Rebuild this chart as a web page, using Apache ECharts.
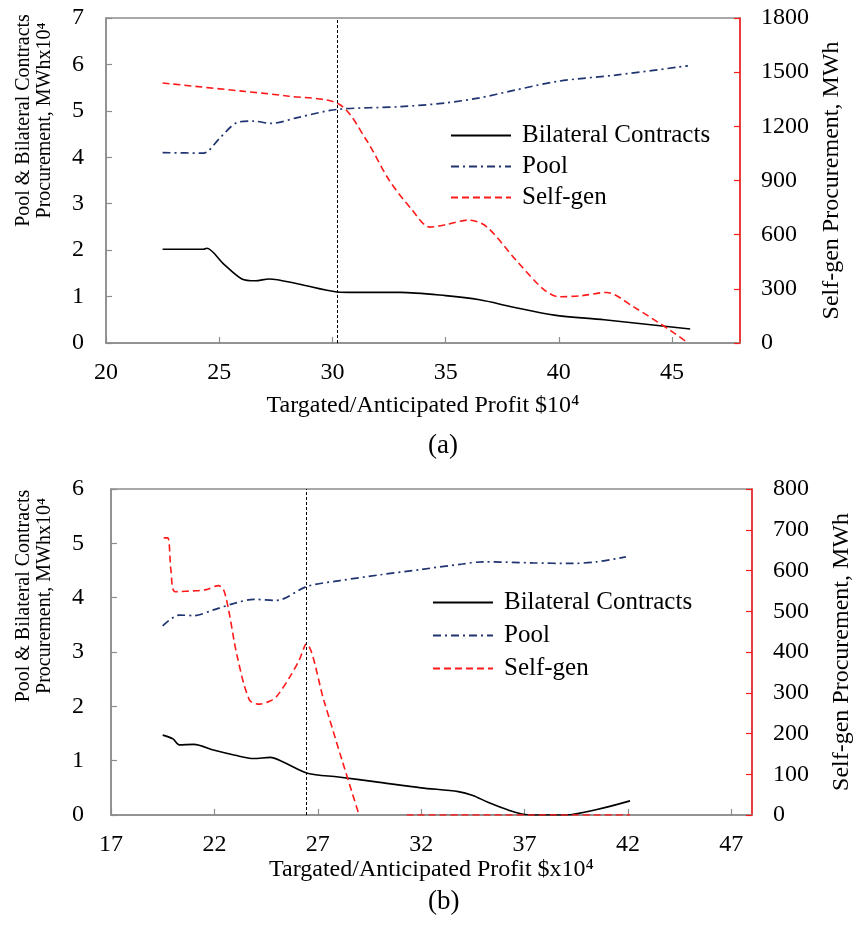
<!DOCTYPE html>
<html>
<head>
<meta charset="utf-8">
<script src="https://cdn.jsdelivr.net/npm/echarts@6/dist/echarts.min.js"></script>
<style>
  html, body { margin: 0; padding: 0; background: #fff; }
  #chart { width: 856px; height: 934px; }
</style>
</head>
<body>
<div id="chart"></div>
<script>
// (a) values
var bilateralAX = [22.5, 24.3, 24.45, 25.2, 26.0, 26.6, 27.2, 28.5, 30.2, 31.0, 33.0, 35.0, 36.5, 38.0, 39.8, 42.0, 45.8];
var bilateralAY = [2.02, 2.02, 2.04, 1.70, 1.38, 1.34, 1.38, 1.27, 1.10, 1.09, 1.09, 1.02, 0.93, 0.77, 0.60, 0.50, 0.30];
var poolAX = [22.5, 24.3, 25.0, 25.8, 26.5, 27.3, 28.5, 30.2, 33.0, 35.0, 36.5, 38.0, 40.0, 42.5, 45.7];
var poolAY = [4.10, 4.09, 4.40, 4.75, 4.78, 4.73, 4.86, 5.03, 5.09, 5.17, 5.28, 5.44, 5.64, 5.77, 5.97];
var selfAX = [22.5, 26.0, 28.0, 30.3, 31.5, 32.5, 33.5, 34.3, 35.0, 36.0, 36.8, 38.1, 39.3, 40.0, 41.0, 42.1, 43.3, 44.9, 45.7];
var selfAY = [1440, 1395, 1368, 1322, 1124, 903, 740, 642, 655, 681, 645, 460, 300, 256, 262, 280, 200, 72, 0];
var markA = 30.2;

// (b) values
var bilateralBX = [19.5, 20.0, 20.3, 21.0, 22.0, 23.0, 23.9, 24.7, 25.3, 26.5, 28.0, 30.0, 32.0, 33.8, 34.5, 35.2, 36.3, 37.0, 38.0, 39.0, 40.5, 42.1];
var bilateralBY = [1.47, 1.40, 1.29, 1.30, 1.19, 1.10, 1.04, 1.06, 0.98, 0.77, 0.70, 0.60, 0.50, 0.43, 0.36, 0.24, 0.08, 0.01, 0.0, 0.0, 0.10, 0.26];
var poolBX = [19.5, 20.3, 21.0, 22.0, 23.0, 23.9, 25.0, 26.5, 28.0, 30.0, 32.0, 34.0, 35.0, 37.4, 39.3, 40.5, 41.9];
var poolBY = [3.48, 3.68, 3.67, 3.78, 3.90, 3.97, 3.95, 4.21, 4.31, 4.42, 4.52, 4.62, 4.66, 4.64, 4.63, 4.66, 4.75];
var selfBX = [19.55, 19.75, 19.9, 20.1, 21.0, 21.6, 22.2, 22.45, 22.7, 23.1, 23.7, 24.2, 24.7, 25.0, 25.65, 26.1, 26.45, 27.3, 28.2, 29.0, 30.0, 31.3, 42.1];
var selfBY = [680, 680, 600, 548, 550, 553, 563, 552, 500, 390, 282, 272, 280, 290, 339, 380, 420, 280, 130, 0, '-', 0, 0];
var markB = 26.45;

var seriesNames = ['Bilateral Contracts', 'Pool', 'Self-gen'];
var leftAxisName = 'Pool & Bilateral Contracts\nProcurement, MWhx10\u2074';
var rightAxisName = 'Self-gen Procurement, MWh';
var xNameA = 'Targated/Anticipated Profit $10\u2074';
var xNameB = 'Targated/Anticipated Profit $x10\u2074';

function zip(xs, ys) {
    return xs.map(function (x, i) { return [x, ys[i]]; });
}

var FONT = 'Liberation Serif';
var GRAY = '#8c8c8c';
var BLUE = '#1f3470';
var RED = '#ff1a1a';

function plain(v) { return String(v); }

function xAxis(grid, min, max, name, gap) {
    return {
        type: 'value', gridIndex: grid, min: min, max: max, interval: 5,
        name: name, nameLocation: 'middle', nameGap: gap,
        nameTextStyle: { fontFamily: FONT, fontSize: 24, color: '#000' },
        axisLine: { lineStyle: { color: GRAY, width: 1.5 } },
        axisTick: { inside: true, length: 6, lineStyle: { color: GRAY, width: 1.2 } },
        axisLabel: { fontFamily: FONT, fontSize: 24, color: '#000', margin: 18, showMaxLabel: false },
        splitLine: { show: false }
    };
}

function leftAxis(grid, max, gap, margin, shift) {
    return {
        type: 'value', gridIndex: grid, min: 0, max: max, interval: 1, position: 'left',
        name: leftAxisName, nameLocation: 'middle', nameRotate: 90, nameGap: gap,
        nameTextStyle: { fontFamily: FONT, fontSize: 20, color: '#000', lineHeight: 21, padding: [0, 0, 0, shift] },
        axisLine: { show: true, lineStyle: { color: GRAY, width: 1.5 } },
        axisTick: { show: true, inside: true, length: 6, lineStyle: { color: GRAY, width: 1.2 } },
        axisLabel: { fontFamily: FONT, fontSize: 24, color: '#000', margin: margin },
        splitLine: { show: false }
    };
}

function rightAxis(grid, max, interval, gap) {
    return {
        type: 'value', gridIndex: grid, min: 0, max: max, interval: interval, position: 'right',
        name: rightAxisName, nameLocation: 'middle', nameRotate: 90, nameGap: gap,
        nameTextStyle: { fontFamily: FONT, fontSize: 24, color: '#000' },
        axisLine: { show: true, lineStyle: { color: RED, width: 1.5 } },
        axisTick: { show: true, inside: true, length: 6, lineStyle: { color: RED, width: 1.2 } },
        axisLabel: { fontFamily: FONT, fontSize: 24, color: '#000', margin: 21, formatter: plain },
        splitLine: { show: false }
    };
}

function lines(xi, yl, yr, bil, pool, self, mark) {
    return [{
        name: seriesNames[0], type: 'line', xAxisIndex: xi, yAxisIndex: yl,
        data: bil, smooth: 0.3, symbol: 'none',
        lineStyle: { color: '#000', width: 1.6 }, itemStyle: { color: '#000' },
        markLine: {
            silent: true, symbol: 'none', label: { show: false },
            lineStyle: { color: '#000', type: [3, 2], width: 1 },
            data: [{ xAxis: mark }]
        }
    }, {
        name: seriesNames[1], type: 'line', xAxisIndex: xi, yAxisIndex: yl,
        data: pool, smooth: 0.3, symbol: 'none',
        lineStyle: { color: BLUE, width: 1.7, type: [8, 4, 2, 4] }, itemStyle: { color: BLUE }
    }, {
        name: seriesNames[2], type: 'line', xAxisIndex: xi, yAxisIndex: yr,
        data: self, smooth: 0.3, symbol: 'none',
        lineStyle: { color: RED, width: 1.6, type: [7, 4] }, itemStyle: { color: RED }
    }];
}

function legend(left, top, gap) {
    return {
        orient: 'vertical', left: left, top: top, itemGap: gap, padding: 0,
        itemWidth: 60, itemHeight: 25, data: seriesNames,
        itemStyle: { opacity: 0 },
        textStyle: { fontFamily: FONT, fontSize: 25, lineHeight: 25, color: '#000', padding: [0, 0, 0, 6] }
    };
}

var chart = echarts.init(document.getElementById('chart'));
chart.setOption({
    animation: false,
    backgroundColor: '#fff',
    title: [
        { text: '(a)', left: 423, top: 427, textStyle: { fontFamily: FONT, fontSize: 27, fontWeight: 'normal', color: '#000' } },
        { text: '(b)', left: 423, top: 883, textStyle: { fontFamily: FONT, fontSize: 27, fontWeight: 'normal', color: '#000' } }
    ],
    grid: [
        { left: 106, top: 18, width: 634, height: 325, show: true, borderColor: GRAY, borderWidth: 1.5, outerBoundsMode: 'none' },
        { left: 111, top: 489, width: 641, height: 326, show: true, borderColor: GRAY, borderWidth: 1.5, outerBoundsMode: 'none' }
    ],
    legend: [legend(450, 123, 6), legend(432, 590, 8)],
    xAxis: [xAxis(0, 20, 48, xNameA, 51), xAxis(1, 17, 48, xNameB, 40)],
    yAxis: [leftAxis(0, 7, 51, 22, 120), rightAxis(0, 1800, 300, 78), leftAxis(1, 6, 56, 27, 112), rightAxis(1, 800, 100, 78)],
    series: [].concat(
        lines(0, 0, 1, zip(bilateralAX, bilateralAY), zip(poolAX, poolAY), zip(selfAX, selfAY), markA),
        lines(1, 2, 3, zip(bilateralBX, bilateralBY), zip(poolBX, poolBY), zip(selfBX, selfBY), markB)
    )
});
</script>
</body>
</html>
